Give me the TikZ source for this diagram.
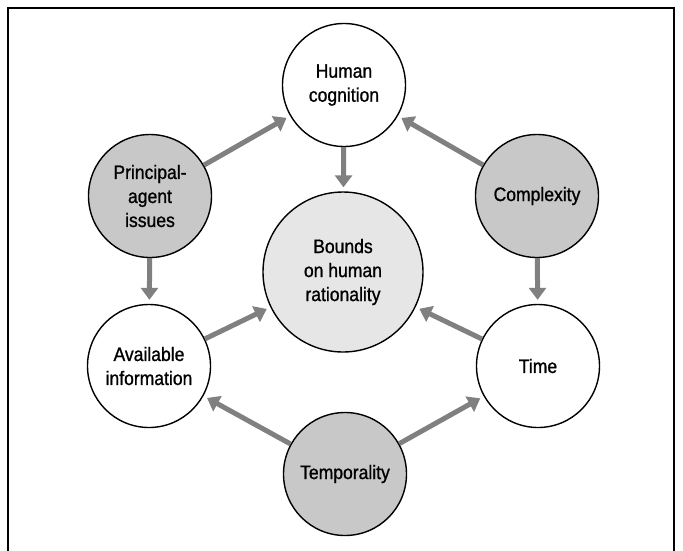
\documentclass[tikz,border=0pt]{standalone}
\usepackage{fontspec}
\setmainfont{Liberation Sans}[FakeBold=1, FakeStretch=0.9]
\usepackage{xcolor}
\usepackage{tikz}
\usetikzlibrary{arrows.meta}
\definecolor{arrowgrey}{RGB}{128,128,128}
\definecolor{causegrey}{RGB}{200,200,200}
\definecolor{coregrey}{RGB}{230,230,230}
\tikzstyle{factor} = [circle, draw, line width=1.4pt, minimum size=123pt, inner sep=0pt, align=center, font=\fontsize{19.5}{24}\selectfont]
\tikzstyle{cause} = [factor, fill=causegrey]
\tikzstyle{arrow} = [-{Triangle[length=12pt,width=17pt]}, line width=5pt, draw=arrowgrey, fill=arrowgrey, shorten >=4pt]

\begin{document}
\begin{tikzpicture}[x=1pt, y=-1pt]
		\useasboundingbox (0,0) rectangle (683,550);
		\draw [line width=1.2pt] (8,552) -- (8,8) -- (674,8) -- (674,552);

		\node (cognition) [factor] at (344,85) {Human\\cognition};
		\node (bounds) [factor, fill=coregrey, minimum size=160pt] at (343,272) {Bounds\\on human\\rationality};
		\node (principal) [cause] at (150,196) {Principal-\\agent\\issues};
		\node (complexity) [cause] at (537,196) {Complexity};
		\node (information) [factor] at (149,366) {Available\\information};
		\node (time) [factor] at (538,366) {Time};
		\node (temporality) [cause] at (345,474) {Temporality};

		\draw [arrow] (principal) -- (cognition);
		\draw [arrow] (complexity) -- (cognition);
		\draw [arrow] (cognition) -- (bounds);
		\draw [arrow] (principal) -- (information);
		\draw [arrow] (complexity) -- (time);
		\draw [arrow] (information) -- (bounds);
		\draw [arrow] (time) -- (bounds);
		\draw [arrow] (temporality) -- (information);
		\draw [arrow] (temporality) -- (time);
	\end{tikzpicture}
\end{document}
